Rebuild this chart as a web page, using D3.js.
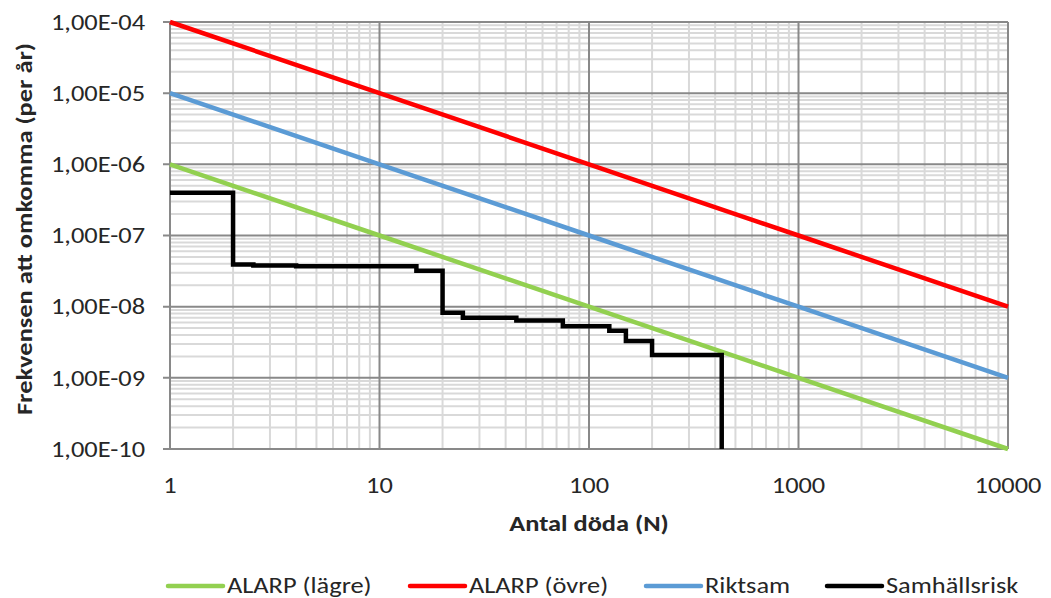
<!DOCTYPE html>
<html>
<head>
  <meta charset="utf-8">
  <title>Samhällsrisk</title>
  <style>
    body { margin: 0; background: #fff; font-family: Calibri, Carlito, "Open Sans", sans-serif; }
    .tick-label { font-size: 22px; fill: #262626; }
    .axis-title { font-size: 22px; font-weight: bold; fill: #262626; }
    .legend text { font-size: 22px; fill: #262626; }
  </style>
</head>
<body>
  <script src="https://cdn.jsdelivr.net/npm/d3@7"></script>
  <script>
    // data
    var nValues = [1, 10, 100, 1000, 10000];
    var alarpLower = [1e-6, 1e-7, 1e-8, 1e-9, 1e-10];
    var alarpUpper = [1e-4, 1e-5, 1e-6, 1e-7, 1e-8];
    var riktsam = [1e-5, 1e-6, 1e-7, 1e-8, 1e-9];
    var riskN = [1, 2, 2.5, 4, 15, 20, 25, 45, 75, 125, 150, 200, 430];
    var riskF = [4e-7, 3.9e-8, 3.8e-8, 3.7e-8, 3.2e-8, 8.2e-9, 7.0e-9, 6.4e-9, 5.3e-9, 4.6e-9, 3.3e-9, 2.1e-9, 1e-10];
    var xTicks = [1, 10, 100, 1000, 10000];
    var yTicks = [1e-4, 1e-5, 1e-6, 1e-7, 1e-8, 1e-9, 1e-10];
    var seriesNames = ["ALARP (lägre)", "ALARP (övre)", "Riktsam", "Samhällsrisk"];
    var seriesColors = ["#92d050", "#ff0000", "#5b9bd5", "#000000"];

    var W = 1051, H = 598;
    var margin = { top: 22, right: 43, bottom: 149, left: 170 },
      width = W - margin.left - margin.right,
      height = H - margin.top - margin.bottom;
    var stretch = "scale(1.2,1)";   // the original text is a bit wide

    var svg = d3.select("body").append("svg")
      .attr("width", W)
      .attr("height", H);
    var g = svg.append("g")
      .attr("transform", "translate(" + margin.left + "," + margin.top + ")");

    var x = d3.scaleLog().domain([1, 10000]).range([0, width]);
    var y = d3.scaleLog().domain([1e-10, 1e-4]).range([height, 0]);

    function fmtY(v) {
      var e = Math.round(Math.log10(v));
      var s = e < 0 ? "-" : "+";
      var a = Math.abs(e);
      return "1,00E" + s + (a < 10 ? "0" + a : a);
    }
    function isMajor(v) {
      var l = Math.log10(v);
      return Math.abs(l - Math.round(l)) < 1e-9;
    }

    // minor grid
    var grid = g.append("g").attr("class", "grid");
    grid.selectAll(".vminor")
      .data(x.ticks().filter(function (d) { return !isMajor(d); }))
      .join("line")
      .attr("x1", d => x(d)).attr("x2", d => x(d))
      .attr("y1", 0).attr("y2", height)
      .attr("stroke", "#d9d9d9").attr("stroke-width", 2);
    grid.selectAll(".hminor")
      .data(y.ticks().filter(function (d) { return !isMajor(d); }))
      .join("line")
      .attr("x1", 0).attr("x2", width)
      .attr("y1", d => y(d)).attr("y2", d => y(d))
      .attr("stroke", "#d9d9d9").attr("stroke-width", 2);

    // major grid
    grid.selectAll(".vmajor")
      .data(xTicks)
      .join("line")
      .attr("x1", d => x(d)).attr("x2", d => x(d))
      .attr("y1", 0).attr("y2", height)
      .attr("stroke", "#898989").attr("stroke-width", 2);
    grid.selectAll(".hmajor")
      .data(yTicks)
      .join("line")
      .attr("x1", -7).attr("x2", width)
      .attr("y1", d => y(d)).attr("y2", d => y(d))
      .attr("stroke", "#898989").attr("stroke-width", 2);

    // tick labels
    g.append("g").selectAll("text")
      .data(yTicks)
      .join("text")
      .attr("class", "tick-label")
      .attr("transform", d => "translate(-25," + y(d) + ") " + stretch)
      .attr("dy", "0.35em")
      .attr("text-anchor", "end")
      .text(fmtY);
    g.append("g").selectAll("text")
      .data(xTicks)
      .join("text")
      .attr("class", "tick-label")
      .attr("transform", d => "translate(" + x(d) + "," + (height + 44) + ") " + stretch)
      .attr("text-anchor", "middle")
      .text(d => d);

    // axis titles
    svg.append("text")
      .attr("class", "axis-title")
      .attr("transform", "translate(" + (margin.left + width / 2) + ",531) " + stretch)
      .attr("text-anchor", "middle")
      .text("Antal döda (N)");
    svg.append("text")
      .attr("class", "axis-title")
      .attr("transform", "translate(32,229) rotate(-90) " + stretch)
      .attr("text-anchor", "middle")
      .text("Frekvensen att omkomma (per år)");

    // lines
    var line = d3.line()
      .x(d => x(d[0]))
      .y(d => y(d[1]));
    var stepLine = d3.line()
      .curve(d3.curveStepAfter)
      .x(d => x(d[0]))
      .y(d => y(d[1]));

    var seriesData = [
      d3.zip(nValues, alarpLower),
      d3.zip(nValues, alarpUpper),
      d3.zip(nValues, riktsam)
    ];
    seriesData.forEach(function (d, i) {
      g.append("path")
        .datum(d)
        .attr("fill", "none")
        .attr("stroke", seriesColors[i])
        .attr("stroke-width", 4.5)
        .attr("d", line);
    });
    g.append("path")
      .datum(d3.zip(riskN, riskF))
      .attr("fill", "none")
      .attr("stroke", seriesColors[3])
      .attr("stroke-width", 4.5)
      .attr("d", stepLine);

    // legend
    var legendX = [168, 410, 646, 827];
    var legend = svg.append("g").attr("class", "legend");
    seriesNames.forEach(function (name, i) {
      var item = legend.append("g")
        .attr("transform", "translate(" + legendX[i] + ",586)");
      item.append("line")
        .attr("x1", 0).attr("x2", 55)
        .attr("y1", 0).attr("y2", 0)
        .attr("stroke", seriesColors[i])
        .attr("stroke-width", 4.5)
        .attr("stroke-linecap", "round");
      item.append("text")
        .attr("transform", "translate(59,7) " + stretch)
        .text(name);
    });
  </script>
</body>
</html>
